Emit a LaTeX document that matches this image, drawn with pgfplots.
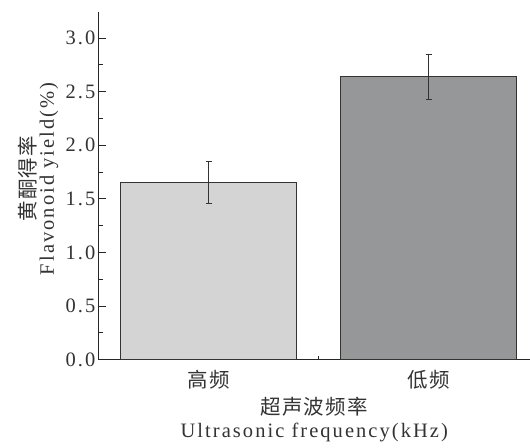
\documentclass[border=0pt]{standalone}
\usepackage{fontspec}
\setmainfont{Liberation Serif}[LetterSpace=10]
\newfontfamily\cjk{Noto Sans CJK SC}[LetterSpace=6]
\usepackage{pgfplots}
\pgfplotsset{compat=1.18}

\definecolor{barlight}{HTML}{D4D4D4}
\definecolor{bardark}{HTML}{969798}
\definecolor{edge}{HTML}{333333}

\begin{document}
\begin{tikzpicture}
\begin{axis}[
  scale only axis,
  width=431pt, height=348pt,
  xmin=0.5, xmax=2.459,
  ymin=0, ymax=3.243,
  axis x line*=bottom,
  axis y line*=left,
  axis line style={line width=0.9pt, black!85},
  ybar, bar width=0.8, bar shift=0pt,
  xtick={1,2},
  xticklabels={{\cjk 高频},{\cjk 低频}},
  minor xtick={1.5},
  ytick={0,0.5,1,1.5,2,2.5,3},
  minor ytick={0.25,0.75,1.25,1.75,2.25,2.75,3.25},
  tick align=inside,
  major tick length=7pt,
  minor tick length=4pt,
  tick style={line width=0.9pt, black!85},
  /pgf/number format/assume math mode=true,
  /pgf/number format/.cd, fixed, fixed zerofill, precision=1,
  /pgfplots/.cd,
  tick label style={font=\fontsize{20.5}{23}\selectfont, black!80},
  xticklabel style={yshift=-7pt},
  xlabel={\begin{tabular}{c}{\cjk 超声波频率}\\[0pt] Ultrasonic frequency(kHz)\end{tabular}},
  ylabel={\begin{tabular}{c}{\cjk 黄酮得率}\\[-5pt] Flavonoid\ yield(\%)\end{tabular}},
  label style={font=\fontsize{20.5}{23}\selectfont, black!80},
  xlabel style={yshift=-1pt},
  ylabel style={yshift=-2pt, xshift=7pt},
  clip=false,
]
\addplot[fill=barlight, draw=edge, line width=0.8pt,
  error bars/.cd, y dir=both, y explicit,
  error bar style={line width=0.8pt, edge},
  error mark options={rotate=90, mark size=3pt, line width=0.8pt, edge}]
  coordinates {(1,1.652) +- (0,0.195)};
\addplot[fill=bardark, draw=edge, line width=0.8pt,
  error bars/.cd, y dir=both, y explicit,
  error bar style={line width=0.8pt, edge},
  error mark options={rotate=90, mark size=3pt, line width=0.8pt, edge}]
  coordinates {(2,2.640) +- (0,0.212)};
\end{axis}
\path (current axis.south west) ++(-99pt,-81pt) rectangle ++(530pt,441pt);
\end{tikzpicture}
\end{document}
